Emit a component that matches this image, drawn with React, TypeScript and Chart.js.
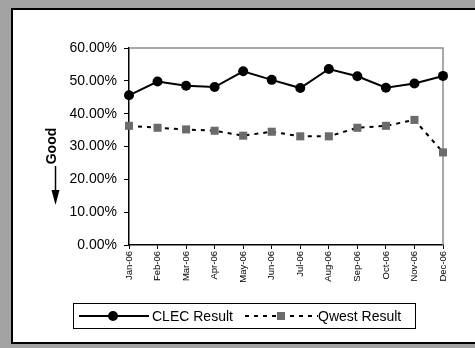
import React, { useEffect, useRef } from "react";
import { Chart, registerables } from "chart.js";

Chart.register(...registerables);

const months = ["Jan-06", "Feb-06", "Mar-06", "Apr-06", "May-06", "Jun-06", "Jul-06", "Aug-06", "Sep-06", "Oct-06", "Nov-06", "Dec-06"];
const clecResult = [45.6, 49.8, 48.5, 48.1, 52.9, 50.3, 47.8, 53.6, 51.4, 47.9, 49.2, 51.5];
const qwestResult = [36.3, 35.7, 35.2, 34.8, 33.3, 34.5, 33.1, 33.1, 35.7, 36.3, 38.1, 28.2];
const seriesNames = ["CLEC Result", "Qwest Result"];
const axisLabel = "Good";

const FONT = "Arial, 'Liberation Sans', sans-serif";

const framePlugin = {
  id: "frame",
  beforeDraw(chart: any) {
    const ctx = chart.ctx;
    const w = chart.width, h = chart.height;
    ctx.save();
    ctx.fillStyle = "#a3a3a3";
    ctx.fillRect(0, 0, w, h);
    ctx.fillStyle = "#000";
    ctx.fillRect(11, 8, 464, 336);
    ctx.fillStyle = "#fff";
    ctx.fillRect(13, 10, 462, 332);
    ctx.restore();
  },
  beforeDatasetsDraw(chart: any) {
    const ctx = chart.ctx;
    const a = chart.chartArea;
    ctx.save();
    ctx.strokeStyle = "#8c8c8c";
    ctx.lineWidth = 1.5;
    ctx.beginPath();
    ctx.moveTo(a.left, a.top);
    ctx.lineTo(a.right, a.top);
    ctx.lineTo(a.right, a.bottom);
    ctx.stroke();
    ctx.restore();
  },
  afterDraw(chart: any) {
    const ctx = chart.ctx;
    ctx.save();
    // "Good" label with arrow
    ctx.translate(52, 146);
    ctx.rotate(-Math.PI / 2);
    ctx.fillStyle = "#000";
    ctx.font = "bold 14px " + FONT;
    ctx.textAlign = "center";
    ctx.textBaseline = "middle";
    ctx.fillText(axisLabel, 0, 0);
    ctx.restore();
    ctx.save();
    ctx.strokeStyle = "#000";
    ctx.lineWidth = 1.5;
    ctx.beginPath();
    ctx.moveTo(55.5, 166);
    ctx.lineTo(55.5, 192);
    ctx.stroke();
    ctx.fillStyle = "#000";
    ctx.beginPath();
    ctx.moveTo(51.5, 190);
    ctx.lineTo(59.5, 190);
    ctx.lineTo(55.5, 205);
    ctx.closePath();
    ctx.fill();

    // Legend
    ctx.strokeStyle = "#000";
    ctx.lineWidth = 1;
    ctx.strokeRect(73.5, 303.5, 342, 25);
    const ly = 316;
    ctx.lineWidth = 2;
    ctx.beginPath();
    ctx.moveTo(79, ly);
    ctx.lineTo(149, ly);
    ctx.stroke();
    ctx.beginPath();
    ctx.arc(113, ly, 5, 0, Math.PI * 2);
    ctx.fill();
    ctx.font = "14px " + FONT;
    ctx.textBaseline = "middle";
    ctx.textAlign = "left";
    ctx.fillText(seriesNames[0], 152, ly + 1);
    ctx.setLineDash([4, 5]);
    ctx.beginPath();
    ctx.moveTo(245, ly);
    ctx.lineTo(318, ly);
    ctx.stroke();
    ctx.setLineDash([]);
    ctx.fillStyle = "#6b6b6b";
    ctx.fillRect(277, ly - 4, 8, 8);
    ctx.fillStyle = "#000";
    ctx.fillText(seriesNames[1], 318, ly + 1);
    ctx.restore();
  },
};

export default function App() {
  const ref = useRef<HTMLCanvasElement>(null);
  useEffect(() => {
    if (!ref.current) return;
    const chart = new Chart(ref.current, {
      type: "line",
      data: {
        labels: months,
        datasets: [
          {
            label: seriesNames[0],
            data: clecResult,
            borderColor: "#000",
            backgroundColor: "#000",
            borderWidth: 2,
            pointRadius: 5,
            pointBorderWidth: 0,
            pointBackgroundColor: "#000",
            pointStyle: "circle",
            clip: false,
          } as any,
          {
            label: seriesNames[1],
            data: qwestResult,
            borderColor: "#000",
            backgroundColor: "#6b6b6b",
            borderWidth: 2,
            borderDash: [4, 5],
            pointRadius: 5.7,
            pointBorderWidth: 0,
            pointBackgroundColor: "#6b6b6b",
            pointStyle: "rect",
            clip: false,
          } as any,
        ],
      },
      options: {
        responsive: false,
        animation: false,
        layout: { padding: { left: 0, right: 32, top: 48, bottom: 0 } },
        plugins: { legend: { display: false }, tooltip: { enabled: false } },
        scales: {
          x: {
            offset: false,
            grid: { drawOnChartArea: false, color: "#000", tickLength: 4, lineWidth: 1 },
            border: { color: "#000", width: 1.5 },
            ticks: {
              autoSkip: false,
              maxRotation: 90,
              minRotation: 90,
              color: "#000",
              padding: 2,
              font: { family: FONT, size: 9.5 },
            },
            afterFit(scale: any) {
              scale.height = 103;
            },
          },
          y: {
            min: 0,
            max: 60,
            grid: { drawOnChartArea: false, color: "#000", tickLength: 5, lineWidth: 1 },
            border: { color: "#000", width: 1.5 },
            ticks: {
              stepSize: 10,
              color: "#000",
              padding: 7,
              font: { family: FONT, size: 14 },
              callback: (v: any) => Number(v).toFixed(2) + "%",
            },
            afterFit(scale: any) {
              scale.width = 129;
            },
          },
        },
      },
      plugins: [framePlugin],
    });
    return () => chart.destroy();
  }, []);
  return (
    <div style={{ position: "fixed", left: 0, top: 0, width: 475, height: 348 }}>
      <canvas ref={ref} width={475} height={348} style={{ width: 475, height: 348, display: "block" }} />
    </div>
  );
}
